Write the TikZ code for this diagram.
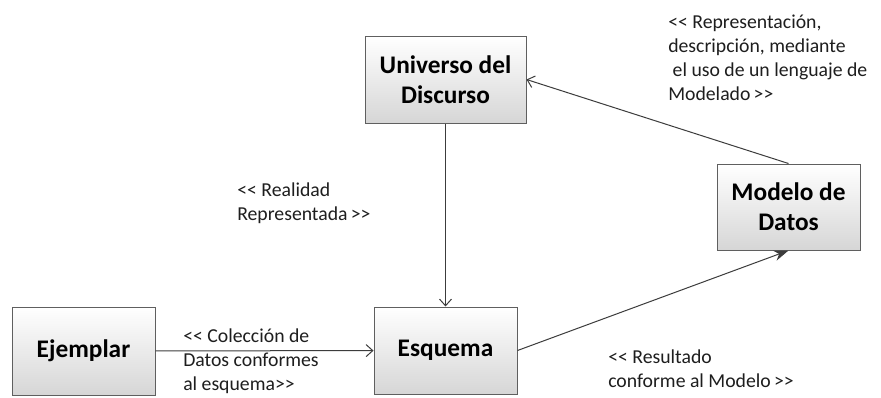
\documentclass[tikz,border=0pt]{standalone}
\usepackage{fontspec}
\setmainfont{Carlito}
\usetikzlibrary{arrows.meta}
\definecolor{boxline}{RGB}{95,95,95}
\definecolor{boxbottom}{RGB}{214,214,214}
\definecolor{linkline}{RGB}{60,60,60}
\definecolor{labeltext}{RGB}{30,30,30}
\newcommand{\opnst}{<{}<}
\newcommand{\clsst}{>{}>}
\tikzstyle{every node}=[font=\fontsize{14.8}{18}\selectfont]
\tikzstyle{entity}=[draw=boxline,line width=0.75pt,top color=white,bottom color=boxbottom,
  align=center,inner sep=0pt,font=\fontsize{19}{22.5}\selectfont\bfseries]
\tikzstyle{stereo}=[anchor=north west,align=left,inner sep=0pt,text=labeltext]
\tikzstyle{link}=[draw=linkline,line width=0.75pt,-{Straight Barb[length=5pt,width=9pt]}]
\tikzstyle{result}=[draw=linkline,line width=0.75pt,-{Stealth[length=11pt,width=8pt]}]

\begin{document}
\begin{tikzpicture}[x=0.75pt,y=-0.75pt]
    % Fix the picture size
    \useasboundingbox[fill=white] (0,0) rectangle (881,397);

    % Boxes
    \node [entity,minimum width=120.75pt,minimum height=65.25pt] (universo) at (445.5,79.5) {Universo del\\Discurso};
    \node [entity,minimum width=107.25pt,minimum height=66pt] (ejemplar) at (83.5,351) {Ejemplar};
    \node [entity,minimum width=107.25pt,minimum height=65.25pt] (esquema) at (445.5,350.5) {Esquema};
    \node [entity,minimum width=107.25pt,minimum height=64.5pt] (modelo) at (788.5,207) {Modelo de\\Datos};

    % Connections
    \draw [link] (universo) -- (esquema);
    \draw [link] (ejemplar) -- (esquema);
    \draw [link] (modelo.north) -- (universo.east);
    \draw [result] (esquema.east) -- (modelo.south);

    % Stereotype labels
    \node [stereo] (lblrepr) at (668,15) {\opnst{} Representación,\\descripción, mediante\\\ el uso de un lenguaje de\\Modelado\,\clsst};
    \node [stereo] (lblreal) at (237,183) {\opnst{} Realidad\\Representada\,\clsst};
    \node [stereo] (lblcoleccion) at (183,329) {\opnst{} Colección de\\Datos conformes\\al esquema\clsst};
    \node [stereo] (lblresultado) at (608,350) {\opnst{} Resultado\\conforme al Modelo\,\clsst};
\end{tikzpicture}
\end{document}
